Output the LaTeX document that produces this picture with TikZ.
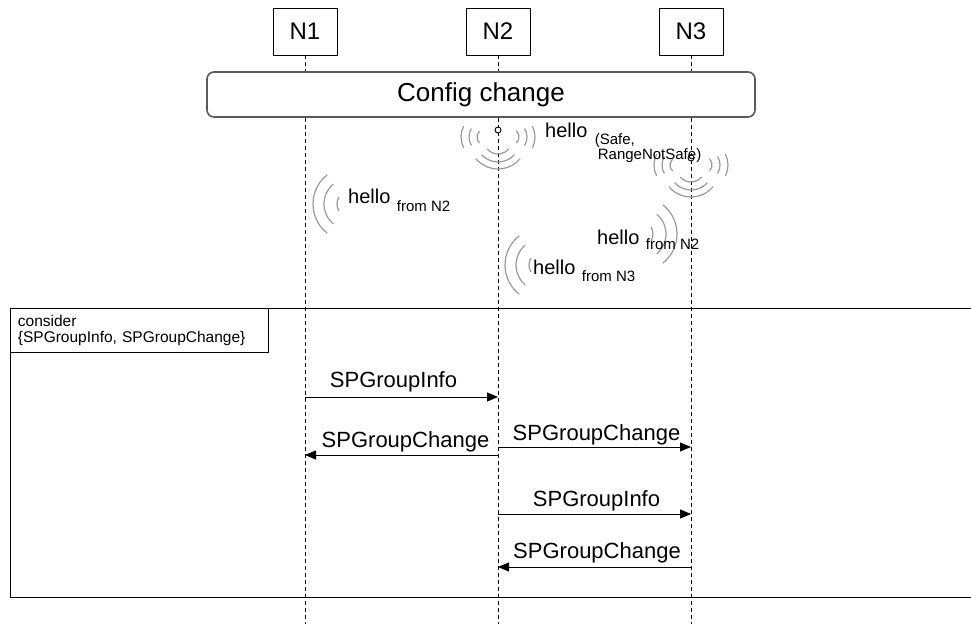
\documentclass[tikz,border=0pt]{standalone}
\usepackage{fontspec}
\setmainfont{Liberation Sans}
\usetikzlibrary{arrows.meta,calc,positioning}
\tikzset{
  head/.style={draw, line width=0.8pt, minimum width=64pt, minimum height=47pt, inner sep=0pt, font=\fontsize{24}{28}\selectfont},
  lifeline/.style={dash pattern=on 4pt off 3pt, line width=0.8pt},
  cfgbox/.style={draw=black!65, line width=1.6pt, rounded corners=7pt, fill=white, minimum width=548pt, minimum height=45pt, inner sep=0pt, font=\fontsize{26}{30}\selectfont},
  frameline/.style={line width=0.8pt},
  guard/.style={draw, line width=0.8pt, anchor=north west, align=left, text width=243pt, inner xsep=7.5pt, inner ysep=7pt, minimum height=42pt, font=\fontsize{15.5}{16}\selectfont},
  msg/.style={-{Triangle[length=11pt,width=9pt]}, line width=0.9pt},
  msglabel/.style={above, inner sep=2pt, font=\fontsize{22}{26}\selectfont},
  wave/.style={draw=black!40, line width=1.2pt},   % radio arcs
  antenna/.style={circle, draw, fill=white, line width=0.9pt, minimum size=6pt, inner sep=0pt},
  hellotxt/.style={anchor=base west, inner sep=0pt, font=\fontsize{20}{24}\selectfont},
  subtxt/.style={anchor=base west, inner sep=0pt, font=\fontsize{15}{16}\selectfont}
}
\newcommand{\WaveArcs}[4]{% #1,#2=centre, #3=direction, #4="radius/half-angle,..."
  \foreach \r/\a in {#4}{%
    \draw[wave] ({#1+\r*cos(#3-\a)},{#2+\r*sin(#3-\a)}) arc[start angle={#3-\a}, end angle={#3+\a}, radius=\r];
  }%
}
\newcommand{\Broadcast}[3]{% #1=name, #2,#3=antenna
  \WaveArcs{#2-13}{#3-7}{180}{8/48,16/32,24/27}
  \WaveArcs{#2+13}{#3-7}{0}{8/48,16/32,24/27}
  \WaveArcs{#2}{#3-10}{270}{14/50,22/48,29/50}
  \node[antenna] (#1) at (#2,#3) {};
}
\newcommand{\Hello}[5]{% #1=name, #2,#3=baseline start, #4=source, #5=drop
  \node[hellotxt] (#1) at (#2,#3) {hello};
  \node[subtxt] (#1-src) at ([xshift=6pt, yshift=-#5pt]#1.base east) {#4};
}

\begin{document}
\begin{tikzpicture}[x=1pt,y=1pt]
  \useasboundingbox (0,0) rectangle (971,624);
  % instances and lifelines
  \node[head] (N1) at (305,592.5) {N1};
  \node[head] (N2) at (498,592.5) {N2};
  \node[head] (N3) at (691,592.5) {N3};
  \foreach \n in {N1,N2,N3}{
    \coordinate (\n-end) at (\n |- 0,0);
    \draw[lifeline] (\n) -- (\n-end);
  }
  % config change bar
  \node[cfgbox] (cfg) at (481,529.5) {Config change};
  % hello broadcasts
  \Broadcast{ant2}{498}{494}
  \Broadcast{ant3}{691}{466}
  \node[hellotxt] (hello0) at (545,486) {hello};
  \node[subtxt] (hello0-a) at ([xshift=7pt, yshift=-7pt]hello0.base east) {(Safe,};
  \node[subtxt] (hello0-b) at ([xshift=3pt, yshift=-15pt]hello0-a.base west) {RangeNotSafe)};
  % received hellos
  \WaveArcs{350}{420}{180}{13/32,26/50,37/52}
  \Hello{rx1}{348}{420}{from N2}{8}
  \WaveArcs{640}{390}{0}{13/32,26/50,37/52}
  \Hello{rx3}{597}{379}{from N2}{5}
  \WaveArcs{542}{359}{180}{13/32,26/50,37/52}
  \Hello{rx2}{533}{349}{from N3}{7}
  % consider fragment
  \draw[frameline] (971,316) -- (10,316) -- (10,27) -- (971,27);
  \node[guard] (cons) at (10,316) {consider\\\{SPGroupInfo, SPGroupChange\}};
  % messages
  \draw[msg] (N1 |- 0,227) -- node[msglabel, xshift=-8pt, yshift=2pt] (m1) {SPGroupInfo} (N2 |- 0,227);
  \draw[msg] (N2 |- 0,169) -- node[msglabel, xshift=4pt] (m2) {SPGroupChange} (N1 |- 0,169);
  \draw[msg] (N2 |- 0,177) -- node[msglabel, xshift=2pt, inner sep=1pt] (m3) {SPGroupChange} (N3 |- 0,177);
  \draw[msg] (N2 |- 0,110) -- node[msglabel, xshift=2pt] (m4) {SPGroupInfo} (N3 |- 0,110);
  \draw[msg] (N3 |- 0,57) -- node[msglabel, xshift=2.5pt, yshift=1pt] (m5) {SPGroupChange} (N2 |- 0,57);
\end{tikzpicture}
\end{document}
